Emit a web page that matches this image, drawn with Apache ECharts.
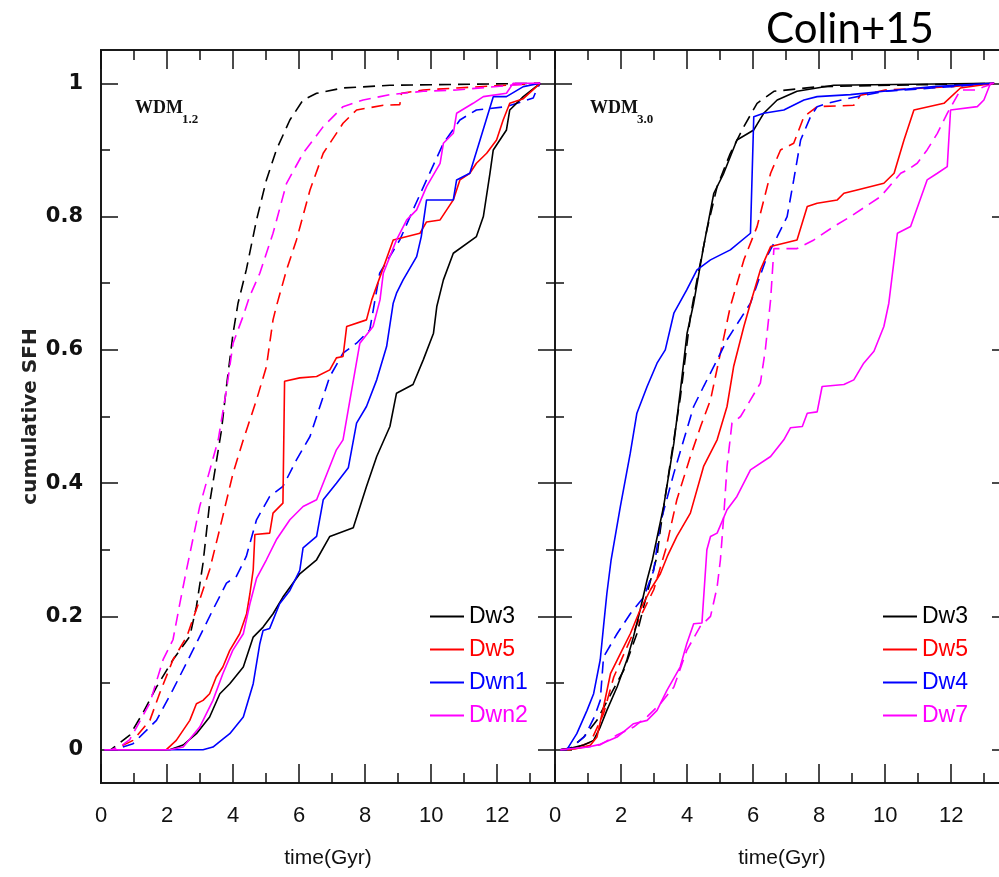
<!DOCTYPE html>
<html><head><meta charset="utf-8">
<script src="https://cdn.jsdelivr.net/npm/echarts@6/dist/echarts.min.js"></script>
<style>html,body{margin:0;padding:0;background:#fff}#chart{width:999px;height:877px}</style>
</head><body><div id="chart"></div>
<script>
// ---- ticks / labels ----
const xMajorTicks = [0, 2, 4, 6, 8, 10, 12];
const xMinorTicks = [1, 3, 5, 7, 9, 11, 13];
const yMajorTicks = [0, 0.2, 0.4, 0.6, 0.8, 1];
const yMinorTicks = [0.1, 0.3, 0.5, 0.7, 0.9];
const xRange = [0, 13.75];
const yRange = [-0.05, 1.05];
const panelLabels = ['WDM', 'WDM'];
const panelSubs = ['1.2', '3.0'];
const legendLeftNames = ['Dw3', 'Dw5', 'Dwn1', 'Dwn2'];
const legendRightNames = ['Dw3', 'Dw5', 'Dw4', 'Dw7'];
const lineColors = ['#000000', '#ff0000', '#0000ff', '#ff00ff'];

// ---- left panel (WDM 1.2) : [time, cumulative SFH] ----
const L_dw3 = [[0.1,0],[2.08,0],[2.49,0.007],[2.89,0.024],[3.29,0.049],[3.6,0.084],[3.9,0.099],[4.31,0.124],[4.61,0.169],[4.91,0.184],[5.21,0.204],[5.51,0.229],[6.02,0.264],[6.53,0.285],[6.93,0.32],[7.64,0.333],[8.04,0.395],[8.35,0.44],[8.75,0.485],[8.95,0.535],[9.45,0.548],[9.76,0.585],[10.07,0.625],[10.17,0.665],[10.37,0.705],[10.67,0.745],[11.37,0.77],[11.58,0.8],[11.78,0.865],[11.88,0.9],[12.28,0.93],[12.38,0.96],[12.79,0.98],[13.3,1]];
const L_dw5 = [[0.1,0],[1.98,0],[2.28,0.014],[2.69,0.044],[2.89,0.069],[3.09,0.074],[3.29,0.084],[3.49,0.109],[3.69,0.124],[3.9,0.149],[4.2,0.174],[4.41,0.204],[4.51,0.234],[4.61,0.27],[4.66,0.323],[5.11,0.325],[5.21,0.355],[5.51,0.37],[5.56,0.553],[6.02,0.558],[6.53,0.56],[6.93,0.57],[7.13,0.588],[7.33,0.59],[7.44,0.635],[8.04,0.645],[8.2,0.675],[8.85,0.765],[9.66,0.775],[9.86,0.792],[10.27,0.795],[10.67,0.825],[10.87,0.855],[11.17,0.865],[11.37,0.88],[11.68,0.895],[11.98,0.915],[12.18,0.945],[12.38,0.97],[12.79,0.977],[13.19,0.995],[13.3,1]];
const L_dwn1 = [[0.1,0],[3.09,0],[3.39,0.004],[3.69,0.016],[3.9,0.024],[4.31,0.049],[4.61,0.099],[4.81,0.159],[4.91,0.179],[5.11,0.182],[5.41,0.219],[5.72,0.239],[6.02,0.269],[6.12,0.303],[6.53,0.32],[6.73,0.375],[7.13,0.4],[7.49,0.423],[7.74,0.49],[8.04,0.515],[8.35,0.555],[8.65,0.605],[8.85,0.67],[8.95,0.685],[9.15,0.705],[9.56,0.74],[9.7,0.77],[9.86,0.825],[10.67,0.825],[10.77,0.855],[11.17,0.865],[11.48,0.915],[11.88,0.98],[12.28,0.98],[12.79,0.995],[13.3,1]];
const L_dwn2 = [[0.1,0],[2.08,0],[2.49,0.004],[2.99,0.034],[3.39,0.074],[3.69,0.114],[3.99,0.149],[4.31,0.174],[4.51,0.219],[4.71,0.257],[5.01,0.285],[5.31,0.315],[5.72,0.345],[6.12,0.365],[6.53,0.375],[7.13,0.45],[7.33,0.465],[7.54,0.525],[7.84,0.61],[8.24,0.635],[8.45,0.675],[8.55,0.715],[8.95,0.765],[9.26,0.795],[9.56,0.81],[9.86,0.845],[10.27,0.88],[10.37,0.91],[10.67,0.925],[10.77,0.955],[11.27,0.97],[11.58,0.98],[12.28,0.985],[12.48,1],[13.3,1]];
const L_dw3_dash = [[0.1,0],[0.3,0],[0.87,0.022],[1.27,0.055],[1.68,0.094],[2.18,0.135],[2.69,0.17],[2.89,0.215],[3.09,0.28],[3.29,0.37],[3.65,0.48],[3.8,0.545],[4.0,0.625],[4.15,0.67],[4.4,0.72],[4.71,0.795],[5.01,0.855],[5.31,0.9],[5.72,0.945],[6.12,0.975],[6.53,0.985],[7.33,0.993],[8.75,0.997],[13.3,1]];
const L_dw5_dash = [[0.1,0],[0.4,0],[0.97,0.014],[1.48,0.044],[1.78,0.085],[2.18,0.135],[2.6,0.17],[2.99,0.225],[3.29,0.27],[3.59,0.33],[4.0,0.415],[4.31,0.465],[4.71,0.525],[5.01,0.575],[5.21,0.645],[5.31,0.665],[5.62,0.72],[5.92,0.765],[6.33,0.84],[6.73,0.895],[7.33,0.94],[7.74,0.96],[8.55,0.967],[9.05,0.968],[9.1,0.985],[9.76,0.99],[10.77,0.993],[13.3,1]];
const L_dwn1_dash = [[0.1,0],[0.4,0],[0.97,0.009],[1.68,0.044],[2.18,0.09],[2.79,0.15],[3.39,0.21],[3.8,0.25],[4.1,0.26],[4.4,0.29],[4.71,0.345],[5.11,0.38],[5.51,0.395],[5.92,0.435],[6.33,0.47],[6.63,0.515],[6.93,0.56],[7.33,0.595],[7.74,0.61],[8.14,0.63],[8.44,0.715],[9.05,0.765],[9.45,0.81],[9.86,0.855],[10.37,0.91],[10.87,0.945],[11.37,0.96],[12.28,0.965],[13.09,0.978],[13.19,0.99],[13.3,1]];
const L_dwn2_dash = [[0.1,0],[0.3,0],[0.56,0.004],[0.87,0.015],[1.48,0.07],[1.88,0.135],[2.18,0.165],[2.39,0.22],[2.59,0.27],[2.99,0.365],[3.55,0.465],[3.8,0.54],[4.0,0.61],[4.3,0.65],[4.5,0.68],[4.81,0.715],[5.21,0.775],[5.62,0.85],[6.12,0.895],[6.73,0.935],[7.33,0.965],[7.94,0.975],[8.75,0.983],[9.76,0.988],[10.77,0.99],[12.4,0.997],[13.3,1]];

// ---- right panel (WDM 3.0) ----
const R_dw3 = [[0.16,0],[0.46,0.002],[0.87,0.007],[1.17,0.014],[1.37,0.034],[1.57,0.059],[1.88,0.094],[2.18,0.135],[2.38,0.17],[2.58,0.21],[2.79,0.255],[2.95,0.285],[3.29,0.365],[3.6,0.46],[3.8,0.54],[4.0,0.625],[4.2,0.67],[4.5,0.755],[4.81,0.835],[5.11,0.865],[5.51,0.915],[6.02,0.93],[6.32,0.955],[6.73,0.975],[7.33,0.988],[8.44,0.997],[13.3,1]];
const R_dw5 = [[0.16,0],[0.6,0.001],[1.07,0.0065],[1.27,0.019],[1.47,0.064],[1.68,0.114],[1.98,0.144],[2.28,0.174],[2.58,0.21],[2.89,0.24],[3.19,0.264],[3.4,0.29],[3.69,0.32],[4.1,0.355],[4.5,0.425],[4.91,0.465],[5.21,0.515],[5.41,0.575],[5.72,0.635],[5.92,0.67],[6.22,0.72],[6.53,0.755],[7.33,0.765],[7.64,0.815],[7.94,0.82],[8.55,0.825],[8.75,0.835],[9.15,0.84],[9.96,0.85],[10.27,0.865],[10.57,0.915],[10.87,0.96],[11.78,0.97],[12.28,0.993],[13.3,1]];
const R_dw4 = [[0.16,0],[0.36,0],[0.66,0.024],[0.97,0.059],[1.17,0.084],[1.37,0.135],[1.47,0.185],[1.57,0.234],[1.7,0.285],[1.98,0.365],[2.28,0.445],[2.48,0.505],[2.79,0.545],[3.09,0.58],[3.34,0.6],[3.6,0.655],[3.99,0.69],[4.3,0.72],[4.71,0.735],[5.31,0.75],[5.92,0.775],[6.02,0.95],[6.32,0.955],[6.93,0.96],[7.54,0.975],[7.94,0.98],[8.95,0.983],[9.96,0.988],[11.47,0.995],[13.3,1]];
const R_dw7 = [[0.16,0],[1.0,0.004],[1.37,0.008],[1.88,0.019],[2.38,0.039],[2.79,0.044],[3.09,0.059],[3.39,0.089],[3.79,0.124],[3.99,0.159],[4.2,0.189],[4.45,0.19],[4.6,0.3],[4.71,0.32],[4.91,0.325],[5.21,0.36],[5.51,0.38],[5.92,0.42],[6.53,0.44],[6.93,0.465],[7.13,0.483],[7.49,0.485],[7.64,0.505],[7.94,0.507],[8.09,0.545],[8.75,0.548],[9.05,0.555],[9.35,0.58],[9.66,0.598],[9.96,0.635],[10.11,0.67],[10.37,0.775],[10.77,0.785],[11.27,0.855],[11.58,0.865],[11.88,0.875],[11.98,0.96],[12.79,0.965],[12.99,0.975],[13.19,1],[13.3,1]];
const R_dw3_dash = [[0.16,0],[0.46,0.002],[0.87,0.019],[1.27,0.044],[1.6,0.075],[2.08,0.119],[2.48,0.174],[2.79,0.235],[3.09,0.29],[3.19,0.33],[3.49,0.43],[3.8,0.53],[4.1,0.65],[4.3,0.705],[4.6,0.78],[4.91,0.845],[5.31,0.895],[5.72,0.935],[6.12,0.97],[6.63,0.988],[8.0,0.995],[13.3,1]];
const R_dw5_dash = [[0.16,0],[0.46,0],[1.07,0.011],[1.47,0.054],[1.78,0.109],[2.18,0.154],[2.58,0.199],[2.99,0.24],[3.35,0.3],[3.69,0.375],[4.1,0.44],[4.41,0.485],[4.71,0.525],[5.01,0.595],[5.31,0.665],[5.72,0.735],[6.12,0.785],[6.53,0.865],[6.83,0.9],[7.23,0.91],[7.54,0.95],[7.94,0.965],[9.05,0.967],[9.25,0.982],[10.0,0.99],[12.0,0.995],[13.3,1]];
const R_dw4_dash = [[0.16,0],[0.5,0.003],[0.9,0.02],[1.2,0.05],[1.37,0.074],[1.47,0.139],[1.88,0.174],[2.28,0.204],[2.69,0.229],[2.99,0.269],[3.19,0.34],[3.6,0.415],[3.9,0.465],[4.2,0.515],[4.5,0.545],[4.91,0.585],[5.21,0.615],[5.92,0.67],[6.42,0.74],[6.73,0.77],[7.03,0.8],[7.23,0.855],[7.44,0.915],[7.74,0.95],[7.94,0.965],[8.24,0.97],[8.95,0.978],[10.0,0.988],[12.0,0.995],[13.3,1]];
const R_dw7_dash = [[0.16,0],[1.0,0.004],[1.37,0.0075],[1.88,0.022],[2.38,0.034],[2.8,0.05],[3.19,0.069],[3.6,0.094],[3.99,0.149],[4.4,0.185],[4.71,0.2],[4.91,0.244],[5.01,0.285],[5.11,0.35],[5.21,0.425],[5.36,0.49],[5.62,0.5],[5.92,0.525],[6.22,0.55],[6.37,0.6],[6.53,0.675],[6.63,0.752],[7.33,0.752],[7.84,0.765],[8.44,0.785],[8.95,0.8],[9.86,0.83],[10.47,0.865],[10.67,0.87],[10.97,0.88],[11.27,0.9],[11.58,0.925],[11.88,0.955],[12.28,0.99],[12.79,0.99],[12.99,0.995],[13.3,1]];

// ---- build ----
const frameLine = {show: true, onZero: false, lineStyle: {color: '#1a1a1a', width: 2}};
const tickStyle = {color: '#111', width: 1.5};

function xAxisDef(grid, pos, ticks, len, withLabels) {
  return {
    type: 'value', gridIndex: grid, position: pos, min: xRange[0], max: xRange[1],
    axisLine: frameLine, splitLine: {show: false},
    axisTick: {show: true, inside: true, length: len, customValues: ticks, lineStyle: tickStyle},
    axisLabel: withLabels ? {show: true, customValues: xMajorTicks, margin: 22, fontSize: 22,
      fontFamily: 'Liberation Sans', color: '#111'} : {show: false},
    name: withLabels ? 'time(Gyr)' : '', nameLocation: 'middle', nameGap: 65,
    nameTextStyle: {fontSize: 21, fontFamily: 'Liberation Sans', color: '#111'}
  };
}
function yAxisDef(grid, pos, ticks, len, withLabels) {
  return {
    type: 'value', gridIndex: grid, position: pos, min: yRange[0], max: yRange[1],
    axisLine: frameLine, splitLine: {show: false},
    axisTick: {show: true, inside: true, length: len, customValues: ticks, lineStyle: tickStyle},
    axisLabel: withLabels ? {show: true, customValues: yMajorTicks, margin: 18, fontSize: 21,
      fontWeight: 'bold', fontFamily: 'DejaVu Sans', color: '#111'} : {show: false},
    name: withLabels ? 'cumulative SFH' : '', nameLocation: 'middle', nameGap: 60, nameRotate: 90,
    nameTextStyle: {fontSize: 20, fontWeight: 'bold', fontFamily: 'DejaVu Sans', color: '#222'}
  };
}
const xAxes = [], yAxes = [];
[0, 1].forEach(g => {
  xAxes.push(xAxisDef(g, 'bottom', xMajorTicks, 19, true));
  xAxes.push(xAxisDef(g, 'bottom', xMinorTicks, 10, false));
  xAxes.push(xAxisDef(g, 'top', xMajorTicks, 19, false));
  xAxes.push(xAxisDef(g, 'top', xMinorTicks, 10, false));
  yAxes.push(yAxisDef(g, 'left', yMajorTicks, 17, g === 0));
  yAxes.push(yAxisDef(g, 'left', yMinorTicks, 9, false));
  yAxes.push(yAxisDef(g, 'right', yMajorTicks, 17, false));
  yAxes.push(yAxisDef(g, 'right', yMinorTicks, 9, false));
});

function line(name, data, color, dashed, panel) {
  return {
    type: 'line', name: name, data: data, xAxisIndex: panel * 4, yAxisIndex: panel * 4,
    showSymbol: false, symbol: 'none', clip: true, z: dashed ? 2 : 3,
    lineStyle: {color: color, width: 1.6, type: dashed ? [12, 7] : 'solid'},
    itemStyle: {color: color}, emphasis: {disabled: true}
  };
}
const series = [
  line('Dw3 (dashed)', L_dw3_dash, lineColors[0], true, 0),
  line('Dw5 (dashed)', L_dw5_dash, lineColors[1], true, 0),
  line('Dwn1 (dashed)', L_dwn1_dash, lineColors[2], true, 0),
  line('Dwn2 (dashed)', L_dwn2_dash, lineColors[3], true, 0),
  line('Dw3', L_dw3, lineColors[0], false, 0),
  line('Dw5', L_dw5, lineColors[1], false, 0),
  line('Dwn1', L_dwn1, lineColors[2], false, 0),
  line('Dwn2', L_dwn2, lineColors[3], false, 0),
  line('Dw3 (dashed) ', R_dw3_dash, lineColors[0], true, 1),
  line('Dw5 (dashed) ', R_dw5_dash, lineColors[1], true, 1),
  line('Dw4 (dashed)', R_dw4_dash, lineColors[2], true, 1),
  line('Dw7 (dashed)', R_dw7_dash, lineColors[3], true, 1),
  line('Dw3', R_dw3, lineColors[0], false, 1),
  line('Dw5', R_dw5, lineColors[1], false, 1),
  line('Dw4', R_dw4, lineColors[2], false, 1),
  line('Dw7', R_dw7, lineColors[3], false, 1)
];

function legendDef(left, names) {
  return {
    left: left, top: 605, orient: 'vertical', icon: 'rect', itemWidth: 34, itemHeight: 2,
    itemGap: 10, selectedMode: false, padding: 0, itemStyle: {borderWidth: 0},
    textStyle: {fontSize: 23, fontFamily: 'Liberation Sans', lineHeight: 23},
    data: names.map((n, i) => ({name: n, textStyle: {color: lineColors[i]}}))
  };
}

const wdmFont = {fontFamily: 'Liberation Serif', fontWeight: 'bold', fill: '#111'};
const option = {
  animation: false,
  backgroundColor: '#fff',
  grid: [
    {left: 101, top: 50, width: 454, height: 733, containLabel: false, outerBoundsMode: 'none'},
    {left: 555, top: 50, width: 454, height: 733, containLabel: false, outerBoundsMode: 'none'}
  ],
  xAxis: xAxes,
  yAxis: yAxes,
  legend: [legendDef(430, legendLeftNames), legendDef(883, legendRightNames)],
  series: series,
  graphic: [
    {type: 'text', x: 766, y: 29, style: {text: 'Colin+15', fontSize: 42, fontFamily: 'Lato', fill: '#000', verticalAlign: 'middle'}},
    {type: 'text', x: 135, y: 108, style: Object.assign({text: panelLabels[0], fontSize: 18, verticalAlign: 'middle'}, wdmFont)},
    {type: 'text', x: 182, y: 120, style: Object.assign({text: panelSubs[0], fontSize: 13, verticalAlign: 'middle'}, wdmFont)},
    {type: 'text', x: 590, y: 108, style: Object.assign({text: panelLabels[1], fontSize: 18, verticalAlign: 'middle'}, wdmFont)},
    {type: 'text', x: 637, y: 120, style: Object.assign({text: panelSubs[1], fontSize: 13, verticalAlign: 'middle'}, wdmFont)}
  ]
};
const chart = echarts.init(document.getElementById('chart'), null, {renderer: 'canvas'});
chart.setOption(option);
</script></body></html>
